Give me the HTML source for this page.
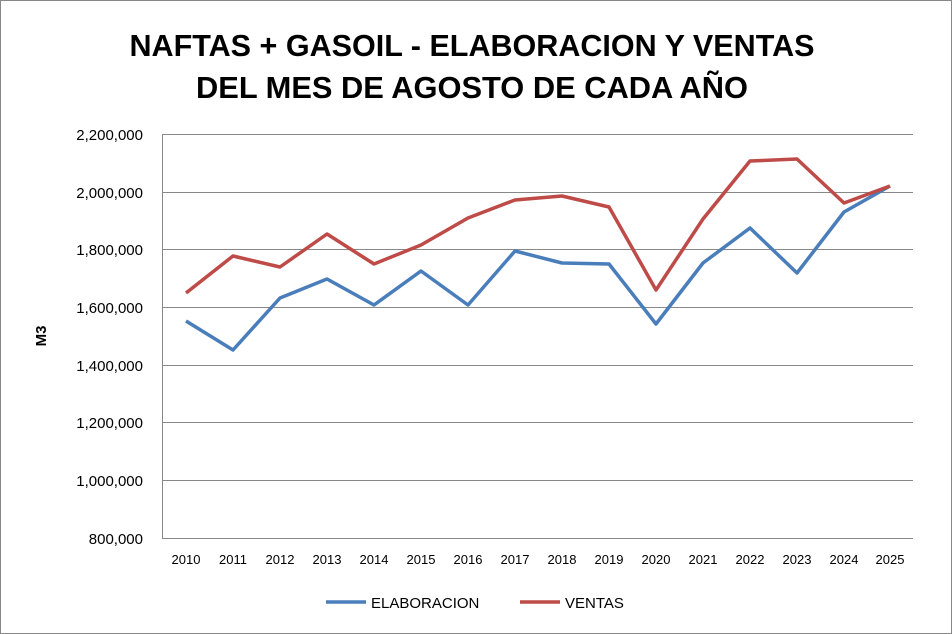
<!DOCTYPE html>
<html><head><meta charset="utf-8"><style>
html,body{margin:0;padding:0;background:#fff;}
svg{display:block;font-family:"Liberation Sans",Arial,sans-serif;}
</style></head><body>
<svg width="952" height="634" viewBox="0 0 952 634" xmlns="http://www.w3.org/2000/svg">
<rect x="0.5" y="0.5" width="951" height="633" fill="#fff" stroke="#888" stroke-width="1"/>
<text x="472" y="56" font-size="31" font-weight="bold" text-anchor="middle" textLength="685" lengthAdjust="spacingAndGlyphs">NAFTAS + GASOIL - ELABORACION Y VENTAS</text>
<text x="472" y="98" font-size="31" font-weight="bold" text-anchor="middle" textLength="552" lengthAdjust="spacingAndGlyphs">DEL MES DE AGOSTO DE CADA AÑO</text>
<g stroke="#888" stroke-width="1">
<line x1="162" y1="134.5" x2="913" y2="134.5"/>
<line x1="162" y1="192.5" x2="913" y2="192.5"/>
<line x1="162" y1="249.5" x2="913" y2="249.5"/>
<line x1="162" y1="307.5" x2="913" y2="307.5"/>
<line x1="162" y1="365.5" x2="913" y2="365.5"/>
<line x1="162" y1="422.5" x2="913" y2="422.5"/>
<line x1="162" y1="480.5" x2="913" y2="480.5"/>
<line x1="162" y1="538.5" x2="913" y2="538.5"/>
<line x1="162.5" y1="134" x2="162.5" y2="538"/>
</g>
<g font-size="15" text-anchor="end" fill="#000">
<text x="143" y="140">2,200,000</text>
<text x="143" y="198">2,000,000</text>
<text x="143" y="255">1,800,000</text>
<text x="143" y="313">1,600,000</text>
<text x="143" y="371">1,400,000</text>
<text x="143" y="428">1,200,000</text>
<text x="143" y="486">1,000,000</text>
<text x="143" y="544">800,000</text>
</g>
<text x="46" y="336" font-size="15" font-weight="bold" text-anchor="middle" transform="rotate(-90 46 336)">M3</text>
<g font-size="13" text-anchor="middle">
<text x="186" y="564">2010</text><text x="233" y="564">2011</text><text x="280" y="564">2012</text><text x="327" y="564">2013</text>
<text x="374" y="564">2014</text><text x="421" y="564">2015</text><text x="468" y="564">2016</text><text x="515" y="564">2017</text>
<text x="562" y="564">2018</text><text x="609" y="564">2019</text><text x="656" y="564">2020</text><text x="703" y="564">2021</text>
<text x="750" y="564">2022</text><text x="797" y="564">2023</text><text x="844" y="564">2024</text><text x="890" y="564">2025</text>
</g>
<polyline fill="none" stroke="#4a7ebb" stroke-width="3.5" stroke-linejoin="round" points="186,321 233,350 280,298 327,279 374,305 421,271 468,305 515,251 562,263 609,264 656,324 703,263 750,228 797,273 844,212 890,186"/>
<polyline fill="none" stroke="#be4b48" stroke-width="3.5" stroke-linejoin="round" points="186,293 233,256 280,267 327,234 374,264 421,245 468,218 515,200 562,196 609,207 656,290 703,219 750,161 797,159 844,203 890,186"/>
<line x1="326" y1="602" x2="366" y2="602" stroke="#4a7ebb" stroke-width="3.5"/>
<text x="371" y="608" font-size="15">ELABORACION</text>
<line x1="520" y1="602" x2="560" y2="602" stroke="#be4b48" stroke-width="3.5"/>
<text x="565" y="608" font-size="15">VENTAS</text>
</svg>
</body></html>
